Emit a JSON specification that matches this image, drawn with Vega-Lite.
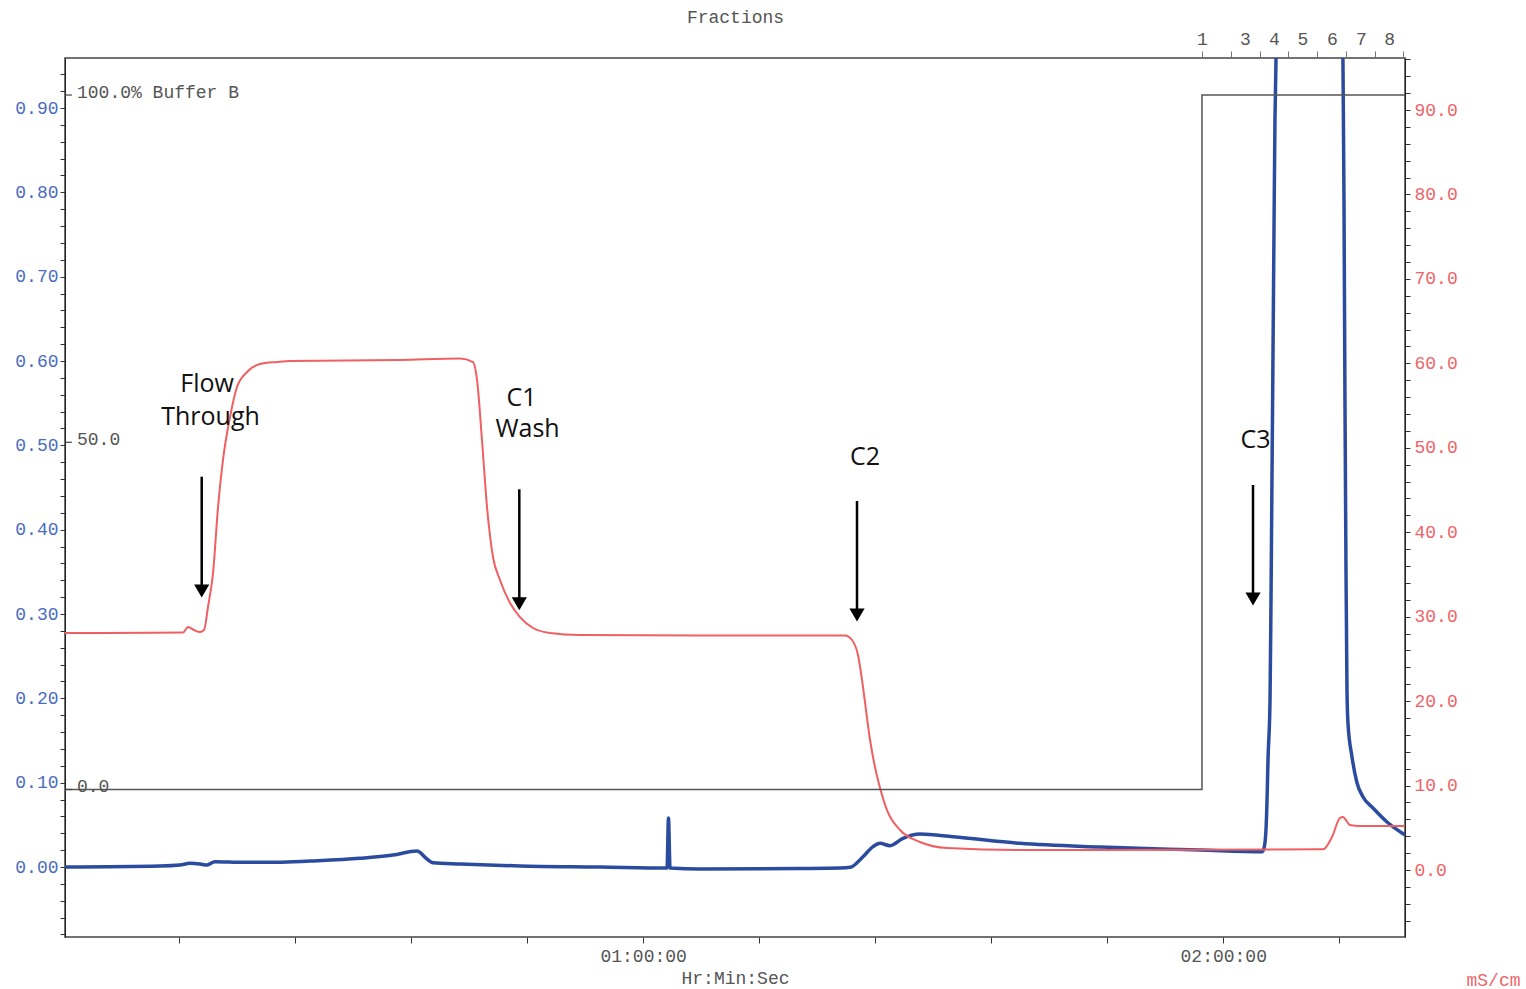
{
  "$schema": "https://vega.github.io/schema/vega-lite/v6.json",
  "width": 1340,
  "height": 879,
  "autosize": "none",
  "padding": {"left": 65, "top": 58, "right": 121, "bottom": 52},
  "background": "white",
  "config": {
    "view": {"stroke": "#444", "strokeWidth": 1.5},
    "font": "Liberation Mono",
    "axis": {
      "labelFont": "Liberation Mono", "titleFont": "Liberation Mono",
      "labelFontSize": 18, "titleFontSize": 18, "titleFontWeight": "normal",
      "grid": false, "domainColor": "#333", "tickColor": "#333",
      "labelColor": "#555", "titleColor": "#555",
      "labelOverlap": false, "labelFlush": false
    }
  },
  "datasets": {
    "blue": [
      {"t":0.2,"v":0},{"t":10.03,"v":0.0012},{"t":12.09,"v":0.0024},{"t":13.13,"v":0.0044},{"t":14.16,"v":0.0036},
      {"t":14.89,"v":0.0024},{"t":15.71,"v":0.0063},{"t":18.61,"v":0.0056},{"t":22.13,"v":0.0056},{"t":25.54,"v":0.0071},
      {"t":30.71,"v":0.0103},{"t":34.13,"v":0.0142},{"t":36.61,"v":0.019},{"t":37.64,"v":0.0095},{"t":38.26,"v":0.0051},
      {"t":41.06,"v":0.0036},{"t":47.26,"v":0.0012},{"t":55.54,"v":0},{"t":62.47,"v":-0.0012},{"t":62.62,"v":0.058},
      {"t":62.78,"v":-0.0012},{"t":65.88,"v":-0.0024},{"t":76.22,"v":-0.0018},{"t":80.36,"v":-0.0012},{"t":81.4,"v":-0.0004},
      {"t":82.74,"v":0.0122},{"t":83.78,"v":0.0241},{"t":84.5,"v":0.0281},{"t":85.53,"v":0.0253},{"t":86.88,"v":0.034},
      {"t":88.64,"v":0.0391},{"t":92.05,"v":0.036},{"t":98.98,"v":0.0281},{"t":107.25,"v":0.0237},{"t":117.6,"v":0.0202},
      {"t":124.01,"v":0.0181},{"t":124.22,"v":0.0225},{"t":124.42,"v":0.0439},{"t":124.53,"v":0.0794},{"t":124.63,"v":0.1269},
      {"t":124.84,"v":0.198},{"t":124.94,"v":0.3166},{"t":125.04,"v":0.4589},{"t":125.15,"v":0.6131},{"t":125.25,"v":0.7554},
      {"t":125.35,"v":0.8858},{"t":125.46,"v":0.9593},{"t":125.7,"v":1.4},{"t":129.0,"v":2.2},{"t":132.1,"v":1.4},
      {"t":132.38,"v":0.9593},{"t":132.49,"v":0.791},{"t":132.59,"v":0.5538},{"t":132.69,"v":0.364},{"t":132.8,"v":0.2099},
      {"t":132.9,"v":0.1708},{"t":133.32,"v":0.1304},{"t":133.84,"v":0.0996},{"t":134.46,"v":0.083},{"t":135.49,"v":0.07},
      {"t":136.94,"v":0.0534},{"t":138.49,"v":0.0403},{"t":138.8,"v":0.038}
    ],
    "red": [
      {"t":0.2,"c":28.07},{"t":8.99,"c":28.1},{"t":12.41,"c":28.13},{"t":12.92,"c":28.78},{"t":13.54,"c":28.42},
      {"t":14.16,"c":28.19},{"t":14.58,"c":28.42},{"t":14.99,"c":31.15},{"t":15.51,"c":35.17},{"t":16.03,"c":42.99},
      {"t":16.54,"c":48.56},{"t":17.27,"c":53.65},{"t":17.99,"c":57.2},{"t":19.03,"c":58.98},{"t":20.37,"c":59.92},
      {"t":22.13,"c":60.16},{"t":23.47,"c":60.28},{"t":34.85,"c":60.4},{"t":41.06,"c":60.58},{"t":42.4,"c":60.16},
      {"t":42.82,"c":58.03},{"t":43.33,"c":50.92},{"t":43.85,"c":42.99},{"t":44.47,"c":37.07},{"t":45.19,"c":34.34},
      {"t":46.23,"c":31.62},{"t":47.26,"c":29.96},{"t":48.61,"c":28.66},{"t":50.37,"c":28.07},{"t":53.47,"c":27.83},
      {"t":65.88,"c":27.77},{"t":80.88,"c":27.77},{"t":81.6,"c":27.24},{"t":82.22,"c":25.46},{"t":82.64,"c":22.5},
      {"t":83.05,"c":18.95},{"t":83.47,"c":15.4},{"t":83.98,"c":12.2},{"t":84.29,"c":10.66},{"t":85.22,"c":7.1},
      {"t":86.57,"c":4.74},{"t":88.64,"c":3.32},{"t":91.43,"c":2.61},{"t":98.98,"c":2.37},{"t":107.25,"c":2.37},
      {"t":130.32,"c":2.45},{"t":131.25,"c":3.91},{"t":132.07,"c":6.16},{"t":132.38,"c":6.28},{"t":133.11,"c":5.33},
      {"t":134.15,"c":5.21},{"t":138.8,"c":5.21}
    ],
    "gray": [
      {"t":0.2,"p":0,"i":0},{"t":117.8,"p":0,"i":1},{"t":117.8,"p":100,"i":2},{"t":138.8,"p":100,"i":3}
    ],
    "grayLabels": [
      {"t":0.2,"t2":0.92,"p":0,"label":"0.0"},
      {"t":0.2,"t2":0.92,"p":50,"label":"50.0"},
      {"t":0.2,"t2":0.92,"p":100,"label":"100.0% Buffer B"}
    ],
    "arrows": [
      {"t":14.34,"top":0.4628,"head":0.3273},
      {"t":47.19,"top":0.4479,"head":0.3122},
      {"t":82.12,"top":0.434,"head":0.2988},
      {"t":123.08,"top":0.453,"head":0.3178}
    ],
    "notes": [
      {"t":14.9,"v":0.5633,"label":"Flow"},
      {"t":15.25,"v":0.5241,"label":"Through"},
      {"t":47.42,"v":0.5467,"label":"C1"},
      {"t":48.04,"v":0.5099,"label":"Wash"},
      {"t":82.95,"v":0.4767,"label":"C2"},
      {"t":123.34,"v":0.4969,"label":"C3"}
    ]
  },
  "layer": [
    {
      "data": {"name": "blue"},
      "mark": {"type": "line", "color": "#2b4c9e", "strokeWidth": 3.5, "clip": true, "interpolate": "monotone"},
      "encoding": {
        "x": {"field": "t", "type": "quantitative", "scale": {"domain": [0.2, 138.8], "nice": false, "zero": false},
          "axis": {"orient": "bottom", "values": [12,24,36,48,60,72,84,96,108,120,132],
            "labelExpr": "datum.value==60 ? '01:00:00' : datum.value==120 ? '02:00:00' : ''",
            "tickSize": 6, "labelPadding": 4, "title": "Hr:Min:Sec", "titleY": 41, "titleBaseline": "middle", "domain": false}},
        "y": {"field": "v", "type": "quantitative", "scale": {"domain": [-0.083, 0.9593], "nice": false, "zero": false},
          "axis": {"orient": "left", "title": null, "domainColor": "#222",
            "values": [-0.08,-0.06,-0.04,-0.02,0,0.02,0.04,0.06,0.08,0.1,0.12,0.14,0.16,0.18,0.2,0.22,0.24,0.26,0.28,0.3,0.32,0.34,0.36,0.38,0.4,0.42,0.44,0.46,0.48,0.5,0.52,0.54,0.56,0.58,0.6,0.62,0.64,0.66,0.68,0.7,0.72,0.74,0.76,0.78,0.8,0.82,0.84,0.86,0.88,0.9,0.92,0.94],
            "labelExpr": "datum.value >= 0 && abs(round(datum.value*100)) % 10 == 0 ? format(datum.value, '.2f') : ''",
            "labelColor": "#4a6cc0", "tickSize": 5, "labelPadding": 2}}
      }
    },
    {
      "data": {"name": "red"},
      "mark": {"type": "line", "color": "#f05f62", "strokeWidth": 2, "interpolate": "monotone"},
      "encoding": {
        "x": {"field": "t", "type": "quantitative", "scale": {"domain": [0.2, 138.8], "nice": false, "zero": false},
          "axis": {"orient": "top", "domain": false, "tickSize": 7, "labelPadding": 3,
            "values": [117.8,120.8,122.25,123.8,125.25,126.7,128.2,129.7,131.25,132.7,134.25,135.7,137.15,138.6],
            "labelExpr": "datum.value==117.8 ? '1' : datum.value==122.25 ? '3' : datum.value==125.25 ? '4' : datum.value==128.2 ? '5' : datum.value==131.25 ? '6' : datum.value==134.25 ? '7' : datum.value==137.15 ? '8' : ''",
            "tickOpacity": {"condition": {"test": "indexof([122.25,125.25,128.2,131.25,134.25,137.15], datum.value) >= 0", "value": 0}, "value": 1},
            "tickColor": "#777",
            "title": "Fractions", "titleY": -41, "titleBaseline": "middle"}},
        "y": {"field": "c", "type": "quantitative", "scale": {"domain": [-7.93, 96.16], "nice": false, "zero": false},
          "axis": {"orient": "right", "domainColor": "#222",
            "values": [-6,-4,-2,0,2,4,6,8,10,12,14,16,18,20,22,24,26,28,30,32,34,36,38,40,42,44,46,48,50,52,54,56,58,60,62,64,66,68,70,72,74,76,78,80,82,84,86,88,90,92,94,96],
            "labelExpr": "datum.value >= 0 && datum.value <= 90 && datum.value % 10 == 0 ? format(datum.value, '.1f') : ''",
            "labelColor": "#ee6468", "tickSize": 5, "labelPadding": 4,
            "title": "mS/cm", "titleColor": "#ee6468", "titleAngle": 0, "titleX": 88, "titleY": 922,
            "titleAlign": "center", "titleBaseline": "middle"}}
      }
    },
    {
      "layer": [
        {
          "data": {"name": "gray"},
          "mark": {"type": "line", "color": "#555", "strokeWidth": 1.5},
          "encoding": {
            "x": {"field": "t", "type": "quantitative", "scale": {"domain": [0.2, 138.8], "nice": false, "zero": false}, "axis": null},
            "y": {"field": "p", "type": "quantitative", "scale": {"domain": [-21.24, 105.33], "nice": false, "zero": false}, "axis": null},
            "order": {"field": "i", "type": "quantitative"}
          }
        },
        {
          "data": {"name": "grayLabels"},
          "mark": {"type": "rule", "color": "#444", "strokeWidth": 1.2},
          "encoding": {
            "x": {"field": "t", "type": "quantitative", "scale": {"domain": [0.2, 138.8], "nice": false, "zero": false}, "axis": null},
            "x2": {"field": "t2"},
            "y": {"field": "p", "type": "quantitative", "scale": {"domain": [-21.24, 105.33], "nice": false, "zero": false}, "axis": null}
          }
        },
        {
          "data": {"name": "grayLabels"},
          "mark": {"type": "text", "font": "Liberation Mono", "fontSize": 18, "color": "#555", "align": "left", "baseline": "middle", "dx": 12, "dy": -2},
          "encoding": {
            "x": {"field": "t", "type": "quantitative", "scale": {"domain": [0.2, 138.8], "nice": false, "zero": false}, "axis": null},
            "y": {"field": "p", "type": "quantitative", "scale": {"domain": [-21.24, 105.33], "nice": false, "zero": false}, "axis": null},
            "text": {"field": "label"}
          }
        }
      ]
    },
    {
      "layer": [
        {
          "data": {"name": "arrows"},
          "mark": {"type": "rule", "color": "black", "strokeWidth": 2.5},
          "encoding": {
            "x": {"field": "t", "type": "quantitative", "scale": {"domain": [0.2, 138.8], "nice": false, "zero": false}, "axis": null},
            "y": {"field": "top", "type": "quantitative", "scale": {"domain": [-0.083, 0.9593], "nice": false, "zero": false}, "axis": null},
            "y2": {"field": "head"}
          }
        },
        {
          "data": {"name": "arrows"},
          "mark": {"type": "point", "shape": "triangle-down", "filled": true, "color": "black", "size": 230, "opacity": 1},
          "encoding": {
            "x": {"field": "t", "type": "quantitative", "scale": {"domain": [0.2, 138.8], "nice": false, "zero": false}, "axis": null},
            "y": {"field": "head", "type": "quantitative", "scale": {"domain": [-0.083, 0.9593], "nice": false, "zero": false}, "axis": null}
          }
        },
        {
          "data": {"name": "notes"},
          "mark": {"type": "text", "font": "Open Sans", "fontSize": 25, "color": "#111", "align": "center", "baseline": "alphabetic"},
          "encoding": {
            "x": {"field": "t", "type": "quantitative", "scale": {"domain": [0.2, 138.8], "nice": false, "zero": false}, "axis": null},
            "y": {"field": "v", "type": "quantitative", "scale": {"domain": [-0.083, 0.9593], "nice": false, "zero": false}, "axis": null},
            "text": {"field": "label"}
          }
        }
      ]
    }
  ],
  "resolve": {"scale": {"y": "independent"}, "axis": {"x": "independent", "y": "independent"}}
}
